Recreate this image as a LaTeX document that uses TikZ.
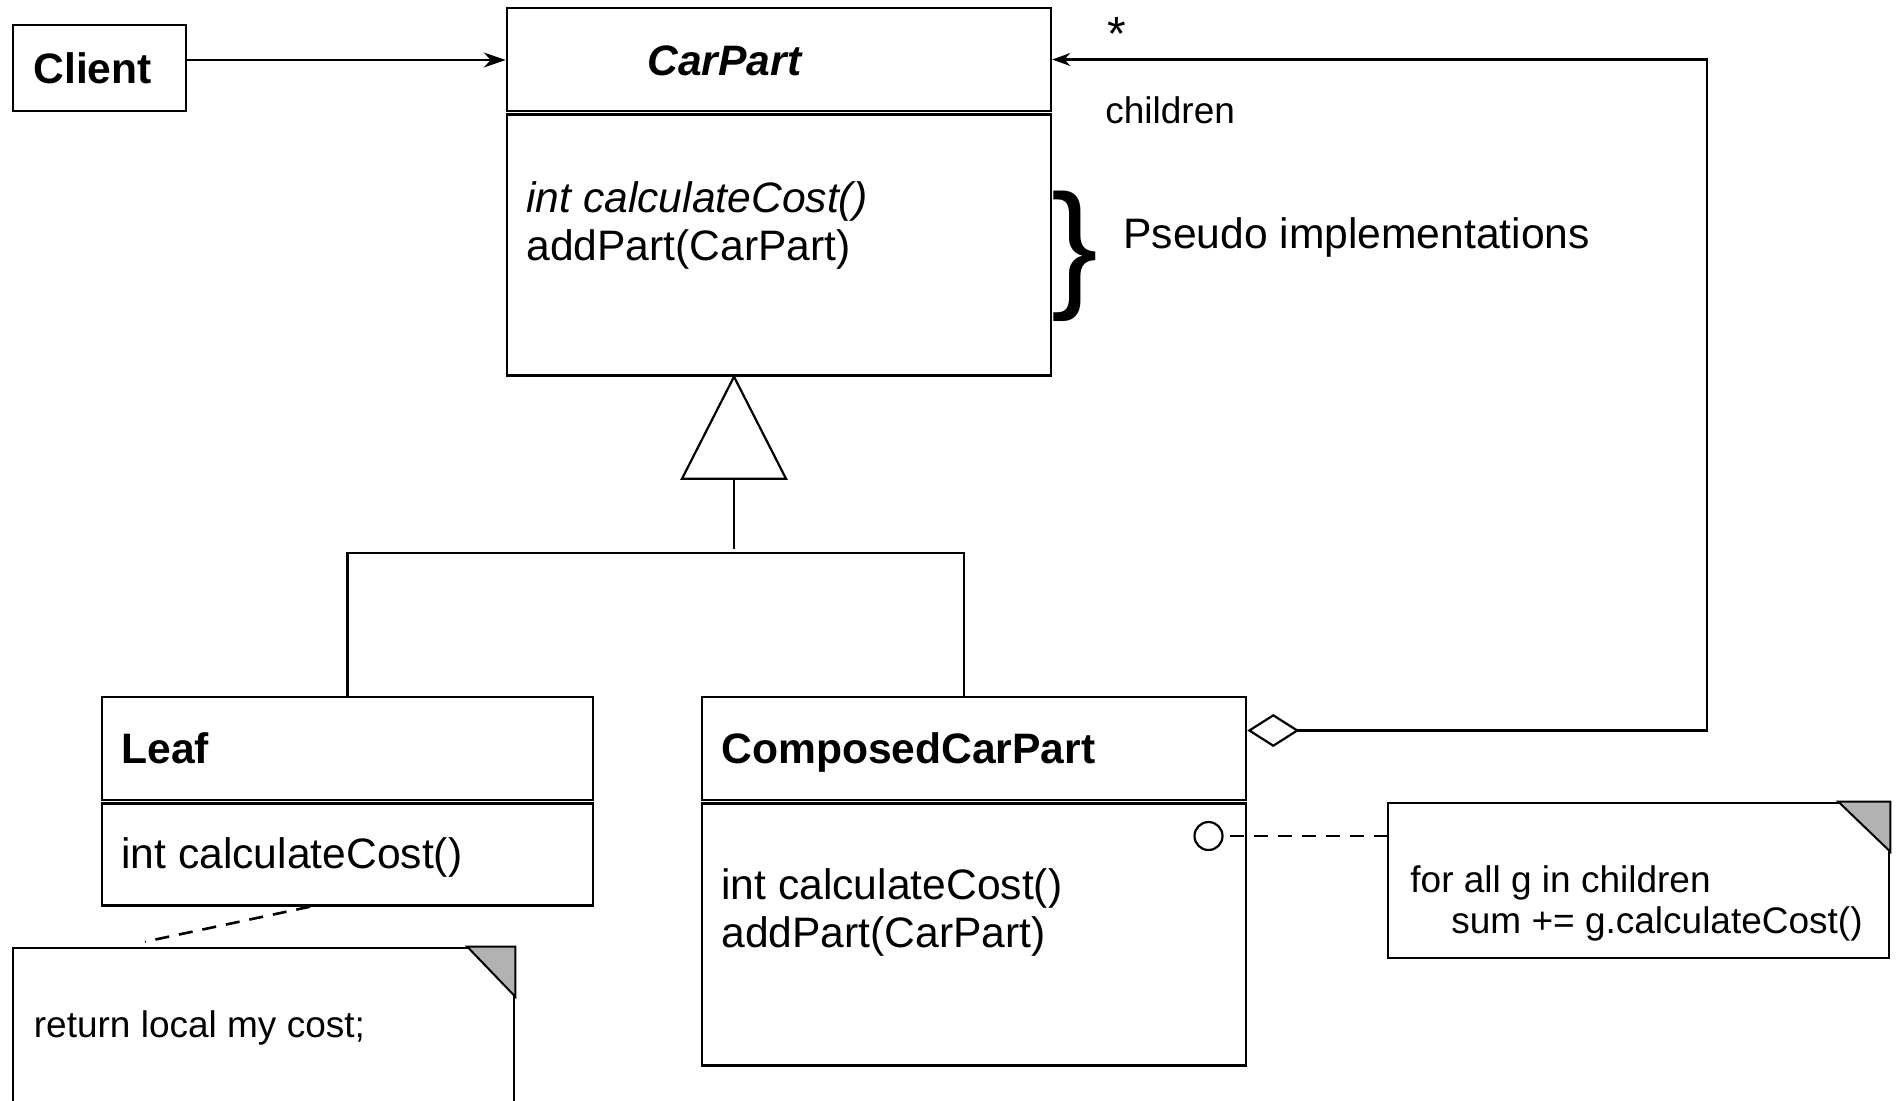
\documentclass[tikz,border=0pt]{standalone}
\usepackage{fontspec}
\setmainfont{Liberation Sans}
\usetikzlibrary{arrows.meta, positioning}

\newcommand{\classfont}{\fontsize{21.3pt}{24.2pt}\selectfont}
\newcommand{\notefont}{\fontsize{18.5pt}{20.4pt}\selectfont}

\tikzset{
  umlbox/.style = {
    draw,
    rectangle,
    line width = 1.3pt,
    inner sep = 0pt,
  },
  notebox/.style = {
    draw,
    rectangle,
    line width = 1.3pt,
    minimum width = 250.5pt,
  },
  fold/.style = {line width = 1pt, fill = black!30},
  connector/.style = {line width = 1.1pt},
  notelink/.style = {line width = 1.3pt, dash pattern = on 7pt off 5pt},
  plain/.style = {anchor = base west, inner sep = 0pt, align = left},
}

\begin{document}
\begin{tikzpicture}[x = 0.5pt, y = -0.5pt]
  \useasboundingbox (0, 0) rectangle (1897, 1100);
  \clip (0, 0) rectangle (1897, 1100);

  \node [umlbox, minimum width = 86.5pt, minimum height = 43pt]
    (client) at (99.5, 68) {};
  \node [plain, font = \classfont\bfseries] (client name) at (33, 83) {Client};

  \node [umlbox, minimum width = 272pt, minimum height = 51.5pt]
    (carpart head) at (779, 59.5) {};
  \node [umlbox, minimum width = 272pt, minimum height = 130.5pt,
    below = 0.4pt of carpart head] (carpart ops) {};
  \node [plain, font = \classfont\bfseries\itshape] (carpart name) at (647, 75)
    {CarPart};
  \node [plain, font = \classfont] (carpart ops text) at (526, 260.4)
    {\textit{int calculateCost()}\\addPart(CarPart)};

  \node [umlbox, minimum width = 245.5pt, minimum height = 51.5pt]
    (leaf head) at (347.5, 748.5) {};
  \node [umlbox, minimum width = 245.5pt, minimum height = 51pt,
    below = 0.4pt of leaf head] (leaf ops) {};
  \node [plain, font = \classfont\bfseries] (leaf name) at (121, 763) {Leaf};
  \node [plain, font = \classfont] (leaf ops text) at (121, 868)
    {int calculateCost()};

  \node [umlbox, minimum width = 272pt, minimum height = 51.5pt]
    (composed head) at (974, 748.5) {};
  \node [umlbox, minimum width = 272pt, minimum height = 131pt,
    below = 0.4pt of composed head] (composed ops) {};
  \node [plain, font = \classfont\bfseries] (composed name) at (721, 763)
    {ComposedCarPart};
  \node [plain, font = \classfont] (composed ops text) at (721, 947.4)
    {int calculateCost()\\addPart(CarPart)};

  \node [plain, font = \fontsize{70pt}{70pt}\selectfont] (pseudo brace)
    at (1051, 292) {\}};
  \node [plain, font = \classfont] (pseudo label) at (1123, 248)
    {Pseudo implementations};

  \coordinate (apex) at ([xshift = -22.5pt]carpart ops.south);
  \draw [connector] (apex) -- ++(-52, 102) -- ++(104, 0) -- cycle;
  \draw [connector] (apex) ++(0, 102) -- ++(0, 70);
  \draw [connector] (leaf head.north) -- ++(0, -143)
    -| ([xshift = -5pt]composed head.north);

  \draw [connector, -{Stealth[length = 11pt, width = 7.5pt]}]
    ([yshift = 4pt]client.east) -- ([yshift = 4pt]client.east -| carpart head.west);

  \draw [connector, {Diamond[open, length = 26pt, width = 16.5pt]}-{Stealth[length = 9pt, width = 6.5pt]}]
    ([yshift = 9pt]composed head.east) -- ++(460, 0) |- (carpart head.east);
  \node [plain, font = \fontsize{24pt}{24pt}\selectfont] (many) at (1107, 50) {*};
  \node [plain, font = \notefont] (role) at (1105, 123) {children};

  \node [notebox, minimum height = 77.5pt] (sum note) at (1638.5, 880.5) {};
  \filldraw [fold] ([xshift = -26pt]sum note.north east) -- (sum note.north east)
    -- ([yshift = -25pt]sum note.north east) -- cycle;
  \node [plain, font = \notefont] (sum note text) at (1410, 933)
    {for all g in children\\\hspace*{20.5pt}sum += g.calculateCost()};
  \node [draw, circle, line width = 1.1pt, minimum size = 14pt, inner sep = 0pt]
    (port) at (1208.5, 836) {};
  \draw [notelink, shorten <= 3pt] (port) -- (port -| sum note.west);

  \node [notebox, minimum height = 96pt] (leaf note) at (263.5, 1044) {};
  \filldraw [fold] ([xshift = -24pt]leaf note.north east) -- (leaf note.north east)
    -- ([yshift = -25pt]leaf note.north east) -- cycle;
  \node [plain, font = \notefont] (leaf note text) at (33.5, 1037)
    {return local my cost;};
  \draw [notelink] ([xshift = -18.75pt]leaf ops.south)
    -- ([xshift = -59.25pt, yshift = 2.5pt]leaf note.north);
\end{tikzpicture}
\end{document}
